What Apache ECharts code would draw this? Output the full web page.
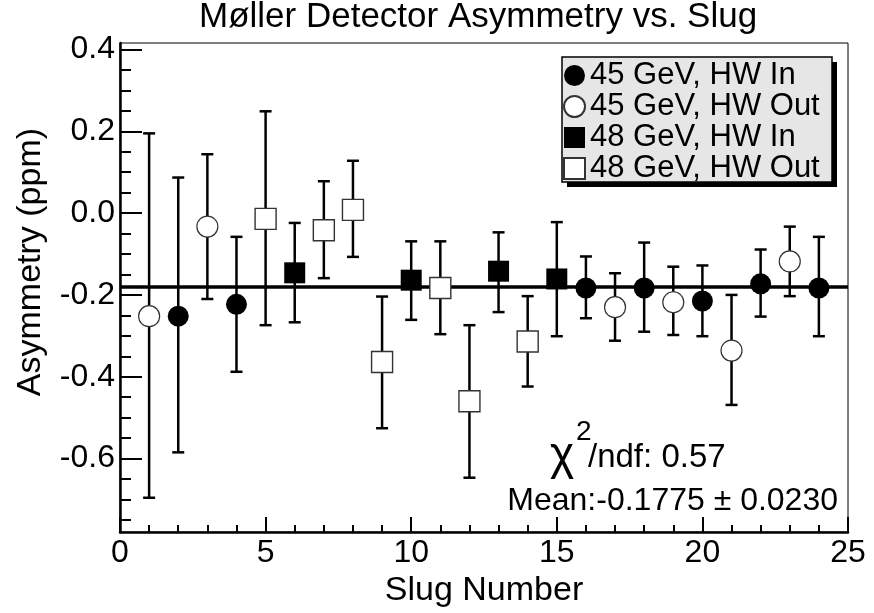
<!DOCTYPE html>
<html><head><meta charset="utf-8">
<script src="https://cdn.jsdelivr.net/npm/echarts@6/dist/echarts.min.js"></script>
<style>html,body{margin:0;padding:0;background:#fff}#c{width:874px;height:613px}</style>
</head><body><div id="c"></div>
<script>
// ---- data ----
const slugs     = [1, 2, 3, 4, 5, 6, 7, 8, 9, 10, 11, 12, 13, 14, 15, 16, 17, 18, 19, 20, 21, 22, 23, 24];
const asymmetry = [-0.252, -0.252, -0.033, -0.223, -0.014, -0.146, -0.042, 0.008, -0.364, -0.164, -0.183, -0.460,
                   -0.142, -0.314, -0.161, -0.183, -0.230, -0.183, -0.218, -0.215, -0.336, -0.173, -0.118, -0.183];
const errLow    = [-0.696, -0.585, -0.210, -0.388, -0.274, -0.267, -0.159, -0.107, -0.526, -0.261, -0.296, -0.647,
                   -0.242, -0.424, -0.301, -0.257, -0.312, -0.290, -0.298, -0.301, -0.469, -0.253, -0.203, -0.301];
const errHigh   = [0.195, 0.087, 0.144, -0.058, 0.249, -0.024, 0.078, 0.128, -0.204, -0.069, -0.069, -0.274,
                   -0.047, -0.203, -0.022, -0.106, -0.147, -0.072, -0.131, -0.128, -0.200, -0.089, -0.033, -0.058];
// 0 = 45 GeV HW In, 1 = 45 GeV HW Out, 2 = 48 GeV HW In, 3 = 48 GeV HW Out
const runSet    = [1, 0, 1, 0, 3, 2, 3, 3, 3, 2, 3, 3, 2, 3, 2, 0, 1, 0, 1, 0, 1, 0, 1, 0];
const setNames  = ['45 GeV, HW In', '45 GeV, HW Out', '48 GeV, HW In', '48 GeV, HW Out'];
const fitLevel  = -0.182;
const chiText   = '/ndf: 0.57';
const meanText  = 'Mean:-0.1775 \u00b1 0.0230';
const titleText = 'M\u00f8ller Detector Asymmetry vs. Slug';
const xName = 'Slug Number';
const yName = 'Asymmetry (ppm)';
const yMajorTicks = [-0.6, -0.4, -0.2, 0.0, 0.2, 0.4];
const yMinorTicks = [-0.75, -0.7, -0.65, -0.55, -0.5, -0.45, -0.35, -0.3, -0.25, -0.15, -0.1, -0.05,
                     0.05, 0.1, 0.15, 0.25, 0.3, 0.35];

// ---- chart ----
const FONT = "'Liberation Sans', Arial, Helvetica, sans-serif";
const chart = echarts.init(document.getElementById('c'), null, {renderer: 'canvas'});

const symbolStyles = [
  {symbol: 'circle', itemStyle: {color: '#000', borderColor: '#000', borderWidth: 0, opacity: 1}},
  {symbol: 'circle', itemStyle: {color: '#fff', borderColor: '#333', borderWidth: 1.2, opacity: 1}},
  {symbol: 'rect',   itemStyle: {color: '#000', borderColor: '#000', borderWidth: 0, opacity: 1}},
  {symbol: 'rect',   itemStyle: {color: '#fff', borderColor: '#333', borderWidth: 1.4, opacity: 1}}
];

const errData = slugs.map((s, i) => [s, errLow[i], errHigh[i]]);

const scatterSeries = setNames.map((name, k) => ({
  type: 'scatter',
  name: name,
  symbol: symbolStyles[k].symbol,
  symbolSize: 21,
  itemStyle: symbolStyles[k].itemStyle,
  z: 5,
  emphasis: {disabled: true},
  data: slugs.map((s, i) => runSet[i] === k ? [s, asymmetry[i]] : null).filter(d => d)
}));

const option = {
  backgroundColor: '#fff',
  animation: false,
  textStyle: {fontFamily: FONT, color: '#000'},
  title: {
    text: titleText, left: 199, top: 0, padding: 0,
    textStyle: {fontSize: 35, fontWeight: 'normal', color: '#000', fontFamily: FONT}
  },
  grid: {left: 120, right: 26, top: 43, bottom: 79, show: true, borderColor: '#000', borderWidth: 1, backgroundColor: 'transparent'},
  legend: {
    data: setNames, orient: 'vertical', left: 563, top: 60, padding: 0,
    itemWidth: 21, itemHeight: 21, itemGap: 0, z: 10, selectedMode: false,
    textStyle: {fontSize: 31, color: '#000', fontFamily: FONT}
  },
  xAxis: {
    type: 'value', min: 0, max: 25, interval: 5,
    name: xName, nameLocation: 'middle', nameGap: 29,
    nameTextStyle: {fontSize: 34, color: '#000', fontFamily: FONT},
    axisLine: {show: true, onZero: false, lineStyle: {color: '#000', width: 2.5}},
    axisTick: {show: true, inside: true, length: 15, lineStyle: {color: '#000', width: 2}},
    minorTick: {show: true, splitNumber: 5, length: 7, lineStyle: {color: '#000', width: 2}},
    splitLine: {show: false},
    axisLabel: {fontSize: 32, color: '#000', margin: 5, fontFamily: FONT}
  },
  yAxis: [{
    type: 'value', min: -0.78, max: 0.416, position: 'left',
    name: yName, nameLocation: 'middle', nameGap: 72,
    nameTextStyle: {fontSize: 34, color: '#000', fontFamily: FONT, padding: [0, 0, 0, 51]},
    axisLine: {show: true, onZero: false, lineStyle: {color: '#000', width: 2.5}},
    axisTick: {show: true, inside: true, length: 22, lineStyle: {color: '#000', width: 2}, customValues: yMajorTicks},
    splitLine: {show: false},
    axisLabel: {fontSize: 32, color: '#000', margin: 5, fontFamily: FONT, customValues: yMajorTicks,
      formatter: v => v.toFixed(1)}
  }, {
    type: 'value', min: -0.78, max: 0.416, position: 'left', offset: 0,
    axisLine: {show: false},
    axisTick: {show: true, inside: true, length: 11, lineStyle: {color: '#000', width: 2}, customValues: yMinorTicks},
    axisLabel: {show: false},
    splitLine: {show: false}
  }],
  graphic: [
    {type: 'rect', z: 6, shape: {x: 567, y: 62, width: 270, height: 125}, style: {fill: '#000'}},
    {type: 'rect', z: 7, shape: {x: 562, y: 57, width: 270, height: 125}, style: {fill: '#e6e6e6', stroke: '#000', lineWidth: 1.5}},
    {type: 'text', z: 8, x: 550, y: 456, style: {text: '\u03c7', font: '46px ' + FONT, fill: '#000', verticalAlign: 'middle', align: 'left'}},
    {type: 'text', z: 8, x: 576, y: 432, style: {text: '2', font: '28px ' + FONT, fill: '#000', verticalAlign: 'middle', align: 'left'}},
    {type: 'text', z: 8, x: 588, y: 458, style: {text: chiText, font: '33px ' + FONT, fill: '#000', verticalAlign: 'middle', align: 'left'}},
    {type: 'text', z: 8, x: 838, y: 501, style: {text: meanText, font: '32px ' + FONT, fill: '#000', verticalAlign: 'middle', align: 'right'}}
  ],
  series: [{
    type: 'custom',
    name: 'errors',
    z: 3,
    silent: true,
    data: errData,
    encode: {x: 0, y: [1, 2]},
    renderItem: function (params, api) {
      const x = api.value(0), lo = api.value(1), hi = api.value(2);
      const a = api.coord([x, lo]);
      const b = api.coord([x, hi]);
      const cap = 6;
      const st = {stroke: '#000', lineWidth: 2.5};
      return {type: 'group', children: [
        {type: 'line', shape: {x1: a[0], y1: a[1], x2: b[0], y2: b[1]}, style: st},
        {type: 'line', shape: {x1: a[0] - cap, y1: a[1], x2: a[0] + cap, y2: a[1]}, style: st},
        {type: 'line', shape: {x1: b[0] - cap, y1: b[1], x2: b[0] + cap, y2: b[1]}, style: st}
      ]};
    },
    markLine: {
      silent: true, symbol: 'none', label: {show: false},
      lineStyle: {color: '#000', width: 3.5, type: 'solid'},
      emphasis: {disabled: true},
      data: [{yAxis: fitLevel}]
    }
  }].concat(scatterSeries)
};
chart.setOption(option);
</script>
</body></html>
